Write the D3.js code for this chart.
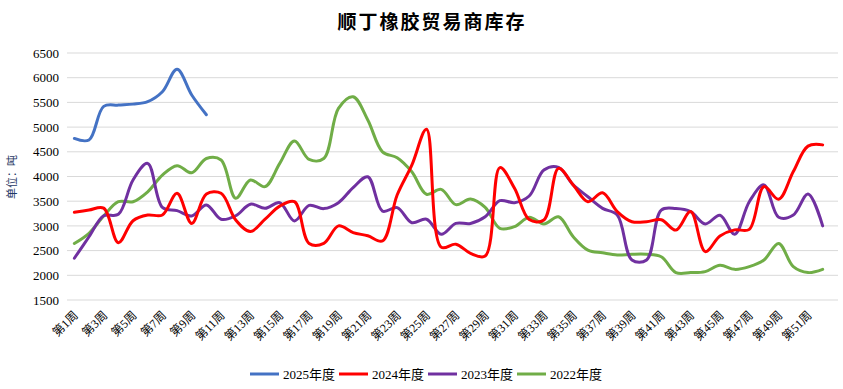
<!DOCTYPE html>
<html>
<head>
<meta charset="utf-8">
<script src="https://cdn.jsdelivr.net/npm/d3@7"></script>
<style>
  body { margin: 0; background: #fff; }
  text { font-family: "Liberation Serif", "Noto Sans CJK SC", serif; }
</style>
</head>
<body>
<div id="vis"></div>
<script>
// week labels 第1周 .. 第52周
var weeks = d3.range(1, 53).map(function (i) { return "第" + i + "周"; });
var yTicks = [1500, 2000, 2500, 3000, 3500, 4000, 4500, 5000, 5500, 6000, 6500];

var s2025 = [4770, 4740, 5420, 5445, 5465, 5515, 5715, 6170, 5650, 5250];
var s2024 = [3275, 3320, 3360, 2660, 3105, 3220, 3220, 3660, 3050, 3645,
  3660, 3120, 2885, 3135, 3400, 3490, 2645, 2645, 3000, 2865,
  2800, 2695, 3625, 4230, 4955, 2570, 2630, 2445, 2390, 4180,
  3760, 3130, 3120, 4165, 3830, 3490, 3670, 3290, 3085, 3085,
  3125, 2915, 3290, 2480, 2795, 2920, 2930, 3795, 3540, 4100,
  4615, 4640];
var s2023 = [2345, 2780, 3205, 3235, 3930, 4265, 3375, 3310, 3200, 3425,
  3135, 3205, 3440, 3355, 3470, 3100, 3415, 3350, 3470, 3775,
  3995, 3300, 3370, 3065, 3135, 2830, 3050, 3050, 3185, 3510,
  3470, 3605, 4130, 4185, 3830, 3590, 3355, 3220, 2310, 2310,
  3320, 3350, 3290, 3040, 3215, 2830, 3490, 3830, 3175, 3220,
  3645, 3000];
var s2022 = [2645, 2850, 3200, 3490, 3490, 3690, 4030, 4220, 4075, 4365,
  4335, 3560, 3930, 3795, 4265, 4720, 4345, 4365, 5380, 5615,
  5145, 4500, 4380, 4095, 3640, 3740, 3430, 3545, 3375, 2950,
  2985, 3175, 3040, 3185, 2780, 2510, 2455, 2410, 2425, 2425,
  2375, 2055, 2055, 2075, 2205, 2120, 2175, 2310, 2645, 2175,
  2055, 2120];

var series = [
  { name: "2025年度", color: "#4472C4", values: s2025 },
  { name: "2024年度", color: "#FF0000", values: s2024 },
  { name: "2023年度", color: "#7030A0", values: s2023 },
  { name: "2022年度", color: "#70AD47", values: s2022 }
];

var w = 843;
var h = 389;
var plotLeft = 67, plotRight = 830, plotTop = 53, plotBottom = 300;

var svg = d3.select("#vis").append("svg").attr("width", w).attr("height", h);

var x = d3.scalePoint().domain(weeks).range([plotLeft, plotRight]).padding(0.5);
var y = d3.scaleLinear().domain([1500, 6500]).range([plotBottom, plotTop]);

// title
svg.append("text")
  .attr("x", 432)
  .attr("y", 29)
  .attr("text-anchor", "middle")
  .style("font-family", "'Noto Sans CJK SC'")
  .style("font-weight", "bold")
  .style("font-size", "19px")
  .style("letter-spacing", "2px")
  .text("顺丁橡胶贸易商库存");

// grid lines
svg.append("g")
  .selectAll("line")
  .data(yTicks)
  .enter()
  .append("line")
  .attr("x1", plotLeft)
  .attr("x2", 838)
  .attr("y1", function (d) { return y(d); })
  .attr("y2", function (d) { return y(d); })
  .attr("stroke", "#d9d9d9")
  .attr("stroke-width", 1);

// y axis
var yAxis = svg.append("g")
  .attr("transform", "translate(" + (plotLeft - 8) + ",0)")
  .call(d3.axisLeft(y).tickValues(yTicks).tickFormat(d3.format("d")).tickSize(0).tickPadding(0));
yAxis.select(".domain").remove();
yAxis.selectAll("text")
  .style("font-family", "'Liberation Serif'")
  .style("font-size", "13px")
  .attr("fill", "#000");

svg.append("text")
  .attr("transform", "translate(16,177) rotate(-90)")
  .attr("text-anchor", "middle")
  .style("font-family", "'Noto Sans CJK SC'")
  .style("font-size", "11px")
  .attr("fill", "#1F3864")
  .text("单位：吨");

// x axis
var xAxis = svg.append("g")
  .attr("transform", "translate(0," + plotBottom + ")")
  .call(d3.axisBottom(x)
    .tickValues(weeks.filter(function (d, i) { return i % 2 === 0; }))
    .tickSize(0)
    .tickPadding(0));
xAxis.select(".domain").remove();
xAxis.selectAll("text")
  .attr("text-anchor", "end")
  .attr("dy", "0")
  .attr("transform", "translate(4,16) rotate(-45)")
  .style("font-family", "'Liberation Serif', 'Noto Sans CJK SC'")
  .style("font-size", "12px")
  .attr("fill", "#000");

// lines
var line = d3.line()
  .x(function (d, i) { return x(weeks[i]); })
  .y(function (d) { return y(d); })
  .curve(d3.curveCatmullRom.alpha(0.5));

svg.append("g")
  .selectAll("path")
  .data(series.slice().reverse())
  .enter()
  .append("path")
  .attr("d", function (d) { return line(d.values); })
  .attr("fill", "none")
  .attr("stroke", function (d) { return d.color; })
  .attr("stroke-width", 3)
  .attr("stroke-linecap", "round");

// legend
var legendX = [250, 339, 428, 517];
var legend = svg.append("g")
  .selectAll("g")
  .data(series)
  .enter()
  .append("g")
  .attr("transform", function (d, i) { return "translate(" + legendX[i] + ",374)"; });

legend.append("line")
  .attr("x1", 0)
  .attr("x2", 29)
  .attr("stroke", function (d) { return d.color; })
  .attr("stroke-width", 3);

legend.append("text")
  .attr("x", 33)
  .attr("y", 5)
  .style("font-family", "'Liberation Serif', 'Noto Sans CJK SC'")
  .style("font-size", "13px")
  .attr("fill", "#000")
  .text(function (d) { return d.name; });
</script>
</body>
</html>
